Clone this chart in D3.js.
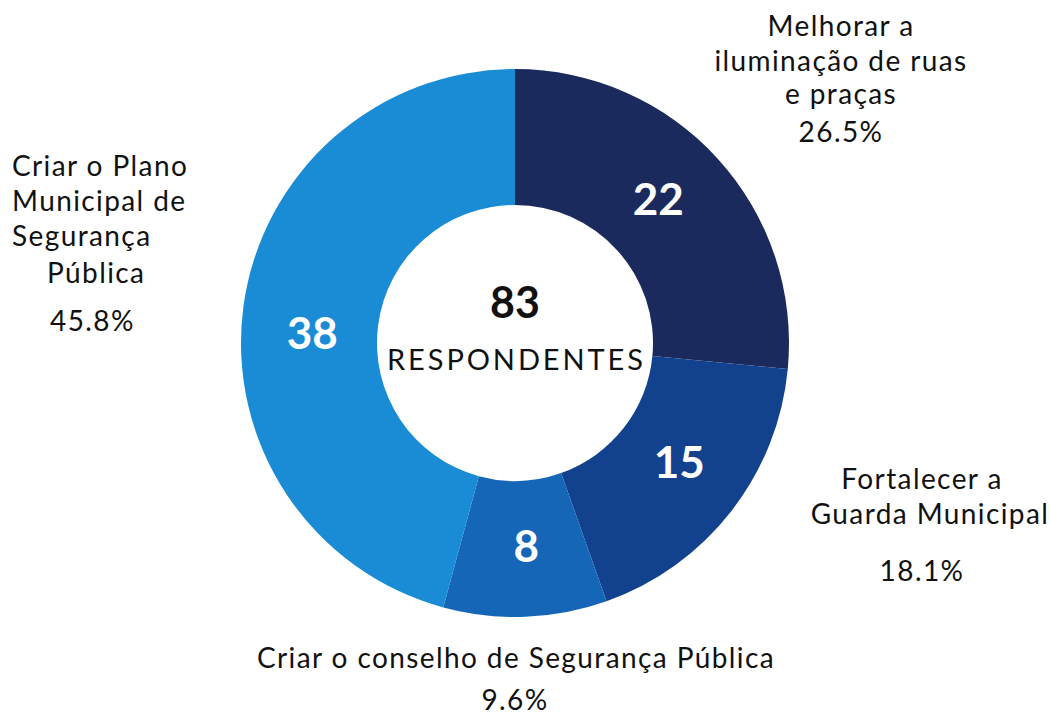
<!DOCTYPE html>
<html>
<head>
<meta charset="utf-8">
<script src="https://cdn.jsdelivr.net/npm/d3@7"></script>
<style>
  body { margin: 0; background: #fff; }
  text { font-family: Lato, "Open Sans", sans-serif; }
</style>
</head>
<body>
<div id="chart"></div>
<script>
// answers, in clockwise order starting at 12 o'clock
var categories = ["Melhorar a iluminação de ruas e praças", "Fortalecer a Guarda Municipal",
                  "Criar o conselho de Segurança Pública", "Criar o Plano Municipal de Segurança Pública"];
var counts = [22, 15, 8, 38];
var percents = ["26.5%", "18.1%", "9.6%", "45.8%"];
var colors = ["#1b2a5c", "#12418e", "#1566b6", "#1a8cd6"];
var total = 83;

var width = 1050, height = 715;
var cx = 515, cy = 343;
var outerR = 274, innerR = 138;

var svg = d3.select("#chart")
    .append("svg")
    .attr("width", width)
    .attr("height", height);

var g = svg.append("g")
    .attr("transform", "translate(" + cx + "," + cy + ")");

var pie = d3.pie().sort(null).value(function(d){ return d; });
var arc = d3.arc().innerRadius(innerR).outerRadius(outerR);
// labels sit a little before the middle of each slice, like the original
var labelArc = d3.arc().innerRadius(136).outerRadius(270);

var slices = g.selectAll("g.slice")
    .data(pie(counts))
    .enter()
        .append("g")
        .attr("class", "slice");

slices.append("path")
    .attr("d", arc)
    .attr("fill", function(d, i){ return colors[i]; });

// white counts inside the ring
slices.append("text")
    .attr("transform", function(d){
        var a = d.startAngle + 0.47 * (d.endAngle - d.startAngle);
        return "translate(" + labelArc.centroid({startAngle: a, endAngle: a}) + ")";
    })
    .attr("text-anchor", "middle")
    .attr("dy", "0.36em")
    .attr("fill", "#fff")
    .attr("font-size", "44px")
    .attr("font-weight", "bold")
    .text(function(d){ return d.data; });

// total in the hole
g.append("text")
    .attr("text-anchor", "middle")
    .attr("y", -25)
    .attr("font-size", "43px")
    .attr("font-weight", "bold")
    .attr("fill", "#111")
    .text(total);

g.append("text")
    .attr("text-anchor", "middle")
    .attr("y", 27)
    .attr("font-size", "29px")
    .attr("fill", "#111")
    .attr("textLength", 256)
    .attr("lengthAdjust", "spacing")
    .text("RESPONDENTES");

// outside labels: each line as [text, x, y, anchor]
function label(lines){
    lines.forEach(function(l){
        svg.append("text")
            .attr("x", l[1])
            .attr("y", l[2])
            .attr("text-anchor", l[3])
            .attr("font-size", "28px")
            .attr("letter-spacing", "1.4px")
            .attr("fill", "#111")
            .text(l[0]);
    });
}

label([
    ["Melhorar a", 841, 36, "middle"],
    ["iluminação de ruas", 841, 71, "middle"],
    ["e praças", 841, 104, "middle"],
    [percents[0], 841, 142, "middle"]
]);

label([
    ["Fortalecer a", 922, 489, "middle"],
    ["Guarda Municipal", 930, 524, "middle"],
    [percents[1], 922, 581, "middle"]
]);

label([
    ["Criar o conselho de Segurança Pública", 516, 668, "middle"],
    [percents[2], 515, 710, "middle"]
]);

label([
    ["Criar o Plano", 12, 176, "start"],
    ["Municipal  de", 12, 211, "start"],
    ["Segurança", 12, 246, "start"],
    ["Pública", 47, 283, "start"],
    [percents[3], 50, 331, "start"]
]);
</script>
</body>
</html>
